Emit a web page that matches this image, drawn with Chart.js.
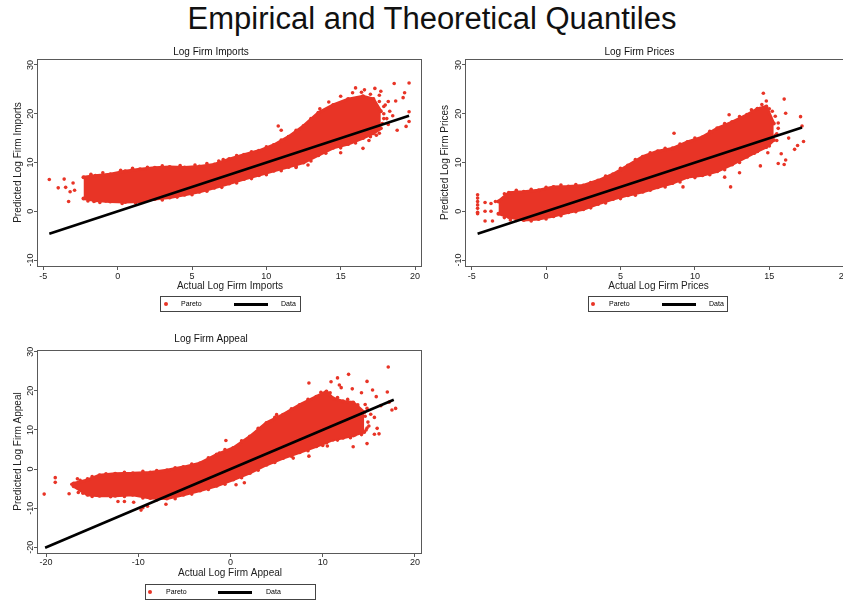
<!DOCTYPE html>
<html>
<head>
<meta charset="utf-8">
<script src="https://cdn.jsdelivr.net/npm/chart.js@4.4.0/dist/chart.umd.min.js"></script>
<style>
	body { margin: 0; width: 843px; height: 603px; overflow: hidden; background: #fff; position: relative; font-family: "Liberation Sans", Arial, sans-serif; }
	#mainTitle { position: absolute; left: 0; top: 3px; width: 864px; text-align: center; font-size: 31px; line-height: 31px; color: #111; white-space: nowrap; }
	canvas { position: absolute; }
	.legend { position: absolute; height: 14px; border: 1px solid #444; font-size: 7px; line-height: 14px; color: #000; background: #fff; will-change: transform; }
	.legend .dot { position: absolute; top: 5px; width: 4px; height: 4px; border-radius: 2px; background: rgb(232,52,38); }
	.legend .bar { position: absolute; top: 6px; height: 3px; background: #000; }
	.legend .lab { position: absolute; top: 0; }
</style>
</head>
<body>
<div id="mainTitle">Empirical and Theoretical Quantiles</div>
<canvas id="canvas1" width="430" height="252" style="left:0px;top:40px"></canvas>
<canvas id="canvas2" width="432" height="252" style="left:428px;top:40px"></canvas>
<canvas id="canvas3" width="430" height="250" style="left:0px;top:330px"></canvas>

<div class="legend" style="left:160px;top:296px;width:139px">
	<span class="dot" style="left:3px"></span><span class="lab" style="left:20px">Pareto</span>
	<span class="bar" style="left:73px;width:34px"></span><span class="lab" style="left:120px">Data</span>
</div>
<div class="legend" style="left:588px;top:296px;width:138px">
	<span class="dot" style="left:2px"></span><span class="lab" style="left:20px">Pareto</span>
	<span class="bar" style="left:73px;width:34px"></span><span class="lab" style="left:120px">Data</span>
</div>
<div class="legend" style="left:145px;top:584px;width:169px">
	<span class="dot" style="left:2px"></span><span class="lab" style="left:20px">Pareto</span>
	<span class="bar" style="left:72px;width:34px"></span><span class="lab" style="left:120px">Data</span>
</div>

<script>
// ---- Log Firm Imports ----
var importsCloudX  = [-2.3, -1.5, -0.5, 0.5, 1.5, 2.5, 3.5, 4.5, 5.5, 6.5, 7.5, 8.5, 9.5, 10.5, 11.5, 12.5, 13.5, 14.5, 15.5, 16.5, 17.2, 17.7];
var importsCloudHi = [7.0, 7.3, 7.6, 8.2, 8.6, 8.9, 9.1, 9.0, 9.2, 9.6, 10.7, 11.6, 12.4, 13.6, 15.3, 17.5, 20.2, 21.8, 23.0, 23.6, 23.0, 20.5];
var importsCloudLo = [2.6, 2.2, 2.0, 1.9, 2.0, 2.5, 2.8, 3.4, 4.0, 4.8, 5.7, 6.6, 7.4, 8.3, 9.1, 10.0, 11.5, 13.0, 13.8, 15.0, 16.0, 17.0];
var importsOutX = [-4.6, -4.0, -3.6, -3.5, -3.3, -3.2, -3.0, -2.9, -1.6, -0.8, 7.1, 10.8, 11.0, 12.0, 12.8, 16.5, 15.0, 17.3, 17.7, 16.0, 16.6, 18.6, 19.6, 19.6, 19.6, 19.4, 19.3, 19.2, 18.7, 18.5, 18.8, 18.2, 18.0, 17.9, 17.5, 18.3, 16.9, 17.4, 17.9, 18.1, 17.8, 18.2, 17.6];
var importsOutY = [6.5, 4.8, 6.6, 4.9, 2.0, 4.0, 5.8, 4.3, 2.0, 2.1, 10.6, 17.5, 16.6, 9.0, 9.5, 12.9, 12.0, 25.2, 24.6, 25.3, 24.9, 26.2, 26.3, 20.4, 18.4, 17.4, 24.3, 23.3, 22.6, 19.6, 16.6, 17.8, 21.8, 19.0, 17.0, 20.5, 14.5, 15.6, 21.5, 19.0, 18.0, 22.5, 23.8];
var importsEdgeX = [-1.8, -1.0, 0.2, 1.0, 2.0, 3.0, 4.2, 5.2, 6.0, 6.8, 8.0, 9.0, 10.0, 11.0, 12.0, 13.0, 13.6, 14.2, 15.0, 15.8, 16.4, 17.0, 17.6, 17.9, -2.0, -1.2, 0.3, 1.2, 3.0, 4.0, 5.0, 6.0, 7.0, 8.0, 9.0, 10.0, 11.0, 12.0, 13.0, 14.0, 15.0, 16.0, 17.0, 17.6];
var importsEdgeY = [7.6, 7.9, 8.4, 8.8, 9.0, 9.3, 9.4, 9.5, 9.8, 10.3, 11.4, 12.2, 13.2, 14.6, 16.6, 19.0, 21.0, 22.4, 23.6, 24.3, 24.4, 24.0, 22.5, 20.0, 2.1, 1.8, 1.6, 1.7, 2.3, 2.9, 3.4, 4.1, 4.9, 5.8, 6.7, 7.5, 8.3, 9.2, 10.3, 11.9, 13.0, 14.0, 15.3, 16.0];
var importsLineX = [-4.6, 19.6];
var importsLineY = [-4.6, 19.6];

// ---- Log Firm Prices ----
var pricesCloudX  = [-3.2, -2.5, -1.5, -0.5, 0.5, 1.5, 2.5, 3.5, 4.5, 5.5, 6.5, 7.5, 8.5, 9.5, 10.5, 11.5, 12.5, 13.5, 14.2, 14.8, 15.3];
var pricesCloudHi = [2.0, 3.8, 4.0, 4.3, 5.0, 5.1, 5.3, 6.3, 7.6, 9.4, 11.2, 12.3, 12.9, 14.2, 15.2, 17.0, 18.3, 19.8, 21.0, 21.5, 18.0];
var pricesCloudLo = [-0.5, -1.2, -1.8, -1.6, -1.0, -0.2, 0.4, 1.5, 2.5, 3.3, 4.0, 4.9, 5.8, 7.0, 7.4, 8.2, 9.6, 11.2, 12.3, 13.2, 14.6];
var pricesOutX = [-4.6, -4.6, -4.6, -4.6, -4.6, -4.6, -4.6, -4.1, -4.1, -4.1, -3.7, -3.7, -3.6, -3.4, -2.4, 6.3, 8.6, 9.2, 12.4, 12.3, 13.0, 12.0, 14.6, 14.8, 15.0, 16.0, 16.1, 15.6, 16.1, 15.6, 16.0, 16.7, 17.1, 17.2, 17.3, 16.9, 15.5, 16.3, 14.9, 14.4, 15.8, 13.9, 15.4, 15.6, 15.5, 15.2];
var pricesOutY = [3.4, 2.7, 2.0, 1.3, 0.6, -0.2, -0.5, 1.8, 0.0, -2.0, 1.6, 0.0, -2.0, 2.0, -1.8, 10.6, 16.0, 5.0, 5.0, 19.8, 7.9, 7.0, 24.2, 22.6, 21.0, 23.0, 20.1, 18.1, 10.5, 9.8, 9.6, 12.7, 19.4, 17.5, 14.3, 13.5, 15.9, 15.0, 12.0, 9.3, 11.8, 17.8, 19.5, 17.0, 14.5, 20.5];
var pricesEdgeX = [-2.8, -2.0, -1.0, 0.0, 1.0, 2.0, 3.0, 4.0, 5.0, 6.0, 7.0, 8.0, 9.0, 10.0, 11.0, 12.0, 13.0, 13.8, 14.5, -2.8, -2.0, -1.0, 0.0, 1.0, 2.0, 3.0, 4.0, 5.0, 6.0, 7.0, 8.0, 9.0, 10.0, 11.0, 12.0, 13.0, 14.0, 15.0, 15.4];
var pricesEdgeY = [3.6, 4.3, 4.5, 4.9, 5.4, 5.5, 5.9, 7.2, 8.8, 10.6, 12.0, 12.9, 13.8, 15.0, 16.4, 18.0, 19.4, 20.8, 21.9, -1.3, -1.9, -2.0, -1.6, -0.9, -0.1, 0.7, 1.7, 2.6, 3.3, 4.3, 5.0, 6.0, 6.9, 7.5, 8.5, 10.0, 11.9, 13.4, 15.6];
var pricesLineX = [-4.6, 17.2];
var pricesLineY = [-4.6, 17.2];

// ---- Log Firm Appeal ----
var appealCloudX  = [-17.0, -15.5, -14.2, -12.5, -10.6, -8.7, -6.9, -5.1, -3.3, -1.5, 0.3, 2.1, 3.9, 5.7, 7.5, 9.3, 10.4, 11.1, 12.2, 13.3, 14.5];
var appealCloudHi = [-3.7, -2.8, -1.6, -1.2, -1.1, -0.9, -0.3, 0.5, 1.5, 3.7, 5.4, 8.3, 11.8, 13.9, 16.4, 18.5, 19.8, 18.1, 17.3, 17.0, 14.5];
var appealCloudLo = [-4.4, -6.6, -6.8, -6.8, -6.6, -7.4, -7.5, -6.6, -5.5, -4.3, -2.7, -1.0, 1.1, 2.8, 4.3, 5.8, 6.8, 7.5, 8.0, 8.6, 9.5];
var appealOutX = [-20.2, -19.0, -19.0, -17.5, -17.2, -16.6, -16.0, -15.5, -14.8, -13.3, -11.5, -12.2, -10.5, -9.7, -9.5, -9.0, -7.0, -3.6, -1.2, -0.5, 0.6, 1.5, 5.0, 8.5, 10.9, 11.6, 12.8, 11.8, 13.2, 14.8, 15.4, 15.8, 16.3, 17.1, 17.0, 17.2, 17.5, 17.9, 15.6, 15.9, 16.1, 15.6, 14.8, 13.5, 13.3, 10.5, 8.5, 6.8, 12.0, 14.2, 13.0, 14.0, 14.8, 14.9, 15.0, 14.6, 15.2, 14.7];
var appealOutY = [-6.4, -2.2, -3.4, -6.3, -3.9, -2.5, -6.2, -2.5, -6.2, -6.3, -8.3, -8.3, -8.5, -10.5, -9.9, -9.5, -9.0, 1.0, 4.1, 7.3, -4.0, -3.5, 13.9, 22.0, 22.3, 23.3, 24.2, 21.5, 20.5, 22.4, 20.2, 18.5, 16.2, 26.1, 19.7, 17.1, 15.1, 15.5, 13.2, 10.4, 9.0, 8.9, 6.5, 8.7, 5.7, 5.9, 3.3, 2.8, 20.8, 19.5, 11.5, 12.0, 15.5, 12.0, 11.0, 16.5, 14.0, 10.0];
var appealEdgeX = [-16.3, -15.0, -13.5, -11.5, -9.5, -8.0, -6.0, -4.2, -2.4, -0.6, 1.2, 3.0, 4.8, 6.6, 8.4, 9.8, 10.8, 11.6, 12.7, 13.8, 14.6, -16.5, -15.0, -13.0, -11.5, -9.5, -8.0, -6.0, -4.2, -2.4, -0.6, 1.2, 3.0, 4.8, 6.6, 8.4, 10.0, 11.6, 13.0, 14.2, 14.8];
var appealEdgeY = [-2.9, -1.9, -1.2, -0.8, -0.6, -0.4, 0.3, 1.3, 2.9, 5.0, 7.2, 10.4, 13.2, 15.4, 17.8, 19.6, 19.5, 18.3, 17.8, 16.4, 13.5, -6.0, -7.0, -7.1, -7.0, -7.4, -7.9, -7.6, -6.4, -5.2, -3.9, -2.2, -0.3, 1.7, 3.3, 4.7, 6.0, 7.4, 8.0, 8.8, 10.5];
var appealLineX = [-20.1, 17.7];
var appealLineY = [-20.1, 17.7];

// ---- tick labels ----
var importsXTicks = [-5, 0, 5, 10, 15, 20];
var pricesXTicks = [-5, 0, 5, 10, 15, 20];
var appealXTicks = [-20, -10, 0, 10, 20];
var importsYTicks = [-10, 0, 10, 20, 30];
var pricesYTicks = [-10, 0, 10, 20, 30];
var appealYTicks = [-20, -10, 0, 10, 20, 30];

var red = 'rgb(232,52,38)';
var fontFamily = '"Liberation Sans", Arial, sans-serif';
Chart.defaults.font.family = fontFamily;
Chart.defaults.color = '#222';

// Stata style: full box round the plot region, y tick labels turned sideways
var stataBox = {
	id: 'stataBox',
	afterDraw: function(chart, args, opts) {
		var ctx = chart.ctx;
		var a = chart.chartArea;
		var ys = chart.scales.y;
		ctx.save();
		ctx.strokeStyle = '#595959';
		ctx.lineWidth = 1;
		ctx.strokeRect(Math.round(a.left) - 0.5, Math.round(a.top) + 0.5, Math.round(a.right - a.left), Math.round(a.bottom - a.top));
		ctx.fillStyle = '#222';
		ctx.font = '9px ' + fontFamily;
		ctx.textAlign = 'center';
		ctx.textBaseline = 'middle';
		ys.ticks.forEach(function(t, i) {
			ctx.save();
			ctx.translate(a.left - opts.gap, ys.getPixelForTick(i));
			ctx.rotate(-Math.PI / 2);
			ctx.fillText(String(t.value), 0, 0);
			ctx.restore();
		});
		ctx.restore();
	}
};

function points(xs, ys) {
	return xs.map(function(x, i) { return {x: x, y: ys[i]}; });
}

function makeChart(id, p) {
	return new Chart(document.getElementById(id), {
		type: 'scatter',
		data: {
			datasets: [
				{
					label: 'Data',
					type: 'line',
					data: points(p.lineX, p.lineY),
					borderColor: '#000',
					borderWidth: 2.6,
					pointRadius: 0,
					showLine: true,
					fill: false
				},
				{
					label: 'Pareto',
					type: 'line',
					data: points(p.cloudX, p.cloudHi),
					borderColor: red,
					backgroundColor: red,
					borderWidth: 3,
					pointRadius: 2,
					pointBackgroundColor: red,
					pointBorderWidth: 0,
					showLine: true,
					fill: '+1'
				},
				{
					label: 'Pareto (low edge)',
					type: 'line',
					data: points(p.cloudX, p.cloudLo),
					borderColor: red,
					backgroundColor: red,
					borderWidth: 3,
					pointRadius: 2,
					pointBackgroundColor: red,
					pointBorderWidth: 0,
					showLine: true,
					fill: false
				},
				{
					label: 'Pareto (sparse)',
					data: points(p.outX, p.outY).concat(points(p.edgeX, p.edgeY)),
					backgroundColor: red,
					borderWidth: 0,
					pointRadius: 1.8
				}
			]
		},
		options: {
			responsive: false,
			animation: false,
			layout: { padding: { left: 0, right: p.padRight, top: 0, bottom: 0 } },
			plugins: {
				legend: { display: false },
				tooltip: { enabled: false },
				title: {
					display: true,
					text: p.title,
					color: '#111',
					font: { size: 10, weight: 'normal' },
					padding: p.titlePad
				},
				stataBox: { gap: 7.5 }
			},
			scales: {
				x: {
					type: 'linear',
					min: p.xMin,
					max: p.xMax,
					afterBuildTicks: function(s) { s.ticks = p.xTicks.map(function(v) { return {value: v}; }); },
					afterFit: function(s) { s.height = p.xHeight; },
					ticks: { font: { size: 9 }, color: '#222', padding: p.xTickPad, maxRotation: 0, autoSkip: false },
					grid: { drawOnChartArea: false, drawTicks: true, tickLength: 4, color: '#595959' },
					border: { display: false },
					title: { display: true, text: p.xTitle, color: '#222', font: { size: 10 }, padding: { top: 0, bottom: p.xTitlePad } }
				},
				y: {
					type: 'linear',
					min: p.yMin,
					max: p.yMax,
					afterBuildTicks: function(s) { s.ticks = p.yTicks.map(function(v) { return {value: v}; }); },
					afterFit: function(s) { s.width = 38; },
					ticks: { display: false },
					grid: { drawOnChartArea: false, drawTicks: true, tickLength: 4, color: '#595959' },
					border: { display: false },
					title: { display: true, text: p.yTitle, color: '#222', font: { size: 10 }, padding: { top: p.yTitlePad, bottom: 0 } }
				}
			}
		},
		plugins: [stataBox]
	});
}

makeChart('canvas1', {
	title: 'Log Firm Imports', xTitle: 'Actual Log Firm Imports', yTitle: 'Predicted Log Firm Imports',
	cloudX: importsCloudX, cloudHi: importsCloudHi, cloudLo: importsCloudLo,
	outX: importsOutX, outY: importsOutY, edgeX: importsEdgeX, edgeY: importsEdgeY,
	lineX: importsLineX, lineY: importsLineY,
	xTicks: importsXTicks, yTicks: importsYTicks,
	xMin: -5.36, xMax: 20.47, yMin: -11.23, yMax: 31.23,
	padRight: 8, titlePad: { top: 6, bottom: 1 }, xHeight: 26, xTickPad: 1, xTitlePad: 0, yTitlePad: 12
});

makeChart('canvas2', {
	title: 'Log Firm Prices', xTitle: 'Actual Log Firm Prices', yTitle: 'Predicted Log Firm Prices',
	cloudX: pricesCloudX, cloudHi: pricesCloudHi, cloudLo: pricesCloudLo,
	outX: pricesOutX, outY: pricesOutY, edgeX: pricesEdgeX, edgeY: pricesEdgeY,
	lineX: pricesLineX, lineY: pricesLineY,
	xTicks: pricesXTicks, yTicks: pricesYTicks,
	xMin: -5.38, xMax: 20.49, yMin: -11.23, yMax: 31.23,
	padRight: 9, titlePad: { top: 6, bottom: 1 }, xHeight: 26, xTickPad: 1, xTitlePad: 0, yTitlePad: 11
});

makeChart('canvas3', {
	title: 'Log Firm Appeal', xTitle: 'Actual Log Firm Appeal', yTitle: 'Predicted Log Firm Appeal',
	cloudX: appealCloudX, cloudHi: appealCloudHi, cloudLo: appealCloudLo,
	outX: appealOutX, outY: appealOutY, edgeX: appealEdgeX, edgeY: appealEdgeY,
	lineX: appealLineX, lineY: appealLineY,
	xTicks: appealXTicks, yTicks: appealYTicks,
	xMin: -20.87, xMax: 20.76, yMin: -21.46, yMax: 30.43,
	padRight: 8, titlePad: { top: 3, bottom: 5 }, xHeight: 27, xTickPad: 0, xTitlePad: 1, yTitlePad: 12
});
</script>
</body>
</html>
